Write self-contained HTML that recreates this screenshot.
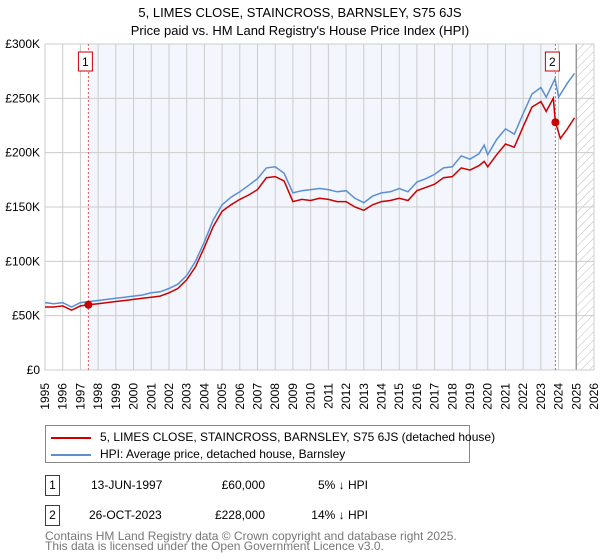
<!DOCTYPE html>
<html><head><meta charset="utf-8"><style>
body{margin:0;background:#fff;font-family:"Liberation Sans","DejaVu Sans",sans-serif;}
#wrap{position:relative;width:600px;height:560px;overflow:hidden}
.t{position:absolute;white-space:nowrap;color:#000}
</style></head><body>
<div id="wrap">
<div class="t" style="left:0;width:600px;text-align:center;top:4px;font-size:13px;line-height:18px">5, LIMES CLOSE, STAINCROSS, BARNSLEY, S75 6JS<br>Price paid vs. HM Land Registry's House Price Index (HPI)</div>
<svg id="chart" width="600" height="420" style="position:absolute;left:0;top:0" font-family="Liberation Sans, DejaVu Sans, sans-serif"></svg>
<div style="position:absolute;left:45px;top:425px;width:425px;height:38px;border:1px solid #888;box-sizing:border-box">
 <div style="position:absolute;left:5px;top:4px;font-size:12px;line-height:14px;white-space:nowrap"><span style="display:inline-block;width:40px;height:2px;background:#cc0000;vertical-align:middle;margin-right:9px"></span>5, LIMES CLOSE, STAINCROSS, BARNSLEY, S75 6JS (detached house)</div>
 <div style="position:absolute;left:5px;top:21px;font-size:12px;line-height:14px;white-space:nowrap"><span style="display:inline-block;width:40px;height:2px;background:#5b8fd4;vertical-align:middle;margin-right:9px"></span>HPI: Average price, detached house, Barnsley</div>
</div>
<div>
 <div class="t" style="left:45px;top:475px;width:13px;height:19px;border:1px solid #cc0000;font-size:12px;line-height:19px;text-align:center">1</div>
 <div class="t" style="left:91px;top:478px;font-size:12px">13-JUN-1997</div>
 <div class="t" style="left:200px;width:65px;text-align:right;top:478px;font-size:12px">£60,000</div>
 <div class="t" style="left:300px;width:68px;text-align:right;top:478px;font-size:12px">5% ↓ HPI</div>
</div>
<div>
 <div class="t" style="left:45px;top:505px;width:13px;height:19px;border:1px solid #cc0000;font-size:12px;line-height:19px;text-align:center">2</div>
 <div class="t" style="left:89px;top:508px;font-size:12px">26-OCT-2023</div>
 <div class="t" style="left:200px;width:65px;text-align:right;top:508px;font-size:12px">£228,000</div>
 <div class="t" style="left:300px;width:68px;text-align:right;top:508px;font-size:12px">14% ↓ HPI</div>
</div>
<div class="t" style="left:45px;top:531px;font-size:12px;line-height:10px;color:#777">Contains HM Land Registry data © Crown copyright and database right 2025.<br>This data is licensed under the Open Government Licence v3.0.</div>
</div>
<script>
const hpiYears=[1995,1995.5,1996,1996.5,1997,1997.5,1998,1998.5,1999,1999.5,2000,2000.5,2001,2001.5,2002,2002.5,2003,2003.5,2004,2004.5,2005,2005.5,2006,2006.5,2007,2007.5,2008,2008.5,2009,2009.5,2010,2010.5,2011,2011.5,2012,2012.5,2013,2013.5,2014,2014.5,2015,2015.5,2016,2016.5,2017,2017.5,2018,2018.5,2019,2019.5,2019.8,2020,2020.5,2021,2021.5,2022,2022.5,2023,2023.3,2023.8,2024,2024.5,2024.9];
const hpiValues=[62,61,62,58,62,63,64,65,66,67,68,69,71,72,75,79,87,100,118,138,152,159,164,170,176,186,187,181,163,165,166,167,166,164,165,158,154,160,163,164,167,164,173,176,180,186,187,197,194,199,207,198,212,222,217,236,254,260,251,268,251,264,273];
const paidYears=[1995,1995.5,1996,1996.5,1997,1997.45,1998,1998.5,1999,1999.5,2000,2000.5,2001,2001.5,2002,2002.5,2003,2003.5,2004,2004.5,2005,2005.5,2006,2006.5,2007,2007.5,2008,2008.5,2009,2009.5,2010,2010.5,2011,2011.5,2012,2012.5,2013,2013.5,2014,2014.5,2015,2015.5,2016,2016.5,2017,2017.5,2018,2018.5,2019,2019.5,2019.8,2020,2020.5,2021,2021.5,2022,2022.5,2023,2023.3,2023.7,2023.82,2024.1,2024.5,2024.9];
const paidValues=[58,58,59,55,59,60,61,62,63,64,65,66,67,68,71,75,83,95,113,132,146,152,157,161,166,177,178,174,155,157,156,158,157,155,155,150,147,152,155,156,158,156,165,168,171,177,178,186,184,188,192,187,198,208,205,224,242,247,238,250,228,213,222,232];
const sales=[[1997.45,60],[2023.82,228]];
const yTicks=[0,50,100,150,200,250,300];
const yTickLabels=["£0","£50K","£100K","£150K","£200K","£250K","£300K"];
const xTicks=[1995,1996,1997,1998,1999,2000,2001,2002,2003,2004,2005,2006,2007,2008,2009,2010,2011,2012,2013,2014,2015,2016,2017,2018,2019,2020,2021,2022,2023,2024,2025,2026];
const X0=45,X1=594,Y0=370,Y1=44;
const xs=y=>X0+(y-1995)/31*(X1-X0);
const ys=v=>Y0-v/300*(Y0-Y1);
const svg=document.getElementById('chart');
const NS='http://www.w3.org/2000/svg';
function mk(tag,attrs,parent){const e=document.createElementNS(NS,tag);for(const k in attrs)e.setAttribute(k,attrs[k]);(parent||svg).appendChild(e);return e;}
const defs=mk('defs',{});
const pat=mk('pattern',{id:'hatch',width:6,height:6,patternUnits:'userSpaceOnUse',patternTransform:'rotate(45)'},defs);
mk('line',{x1:0,y1:0,x2:0,y2:6,stroke:'#bbb','stroke-width':1},pat);
const bg=mk('rect',{x:xs(sales[0][0]),y:Y1,width:xs(sales[1][0])-xs(sales[0][0]),height:Y0-Y1,fill:'#f3f6fd'});


const hz=mk('rect',{x:xs(2025),y:Y1,width:X1-xs(2025),height:Y0-Y1,fill:'url(#hatch)'});


xTicks.forEach(t=>{const l=mk('line',{x1:xs(t),x2:xs(t),y1:Y1,y2:Y0,stroke:'#cccccc','stroke-width':1});


const px=xs(t)+4;
const tx=mk('text',{x:px,y:383,'font-size':12,'text-anchor':'end',fill:'#000',transform:'rotate(-90 '+px+' 383)'});tx.textContent=t;

});
yTicks.forEach((t,i)=>{const l=mk('line',{x1:X0,x2:X1,y1:ys(t),y2:ys(t),stroke:'#cccccc','stroke-width':1});


const tx=mk('text',{x:40,y:ys(t)+4,'font-size':12,'text-anchor':'end',fill:'#000'});tx.textContent=yTickLabels[i];

});
const nl=mk('line',{x1:xs(2025),x2:xs(2025),y1:Y1,y2:Y0,stroke:'#999','stroke-width':1.5});


mk('rect',{x:X0,y:Y1,width:X1-X0,height:Y0-Y1,fill:'none',stroke:'#cccccc'});
sales.forEach((s,i)=>{const l=mk('line',{x1:xs(s[0]),x2:xs(s[0]),y1:Y1,y2:Y0,stroke:'#ee5555','stroke-width':1,'stroke-dasharray':'2,2'});


const g=mk('g',{});


mk('rect',{x:xs(s[0])-10,y:52,width:14,height:19,fill:'#fff',stroke:'#cc0000'},g);
const tx=mk('text',{x:xs(s[0])-3,y:66,'font-size':12,'text-anchor':'middle'},g);tx.textContent=i+1;});
function path(xa,va){return xa.map((y,i)=>(i?'L':'M')+xs(y).toFixed(1)+','+ys(va[i]).toFixed(1)).join('');}
const hp=mk('path',{d:path(hpiYears,hpiValues),fill:'none',stroke:'#5b8fd4','stroke-width':1.5});


const pp=mk('path',{d:path(paidYears,paidValues),fill:'none',stroke:'#cc0000','stroke-width':1.5});


sales.forEach(s=>{const c=mk('circle',{cx:xs(s[0]),cy:ys(s[1]),r:4,fill:'#cc0000'});

});
</script>
</body></html>
